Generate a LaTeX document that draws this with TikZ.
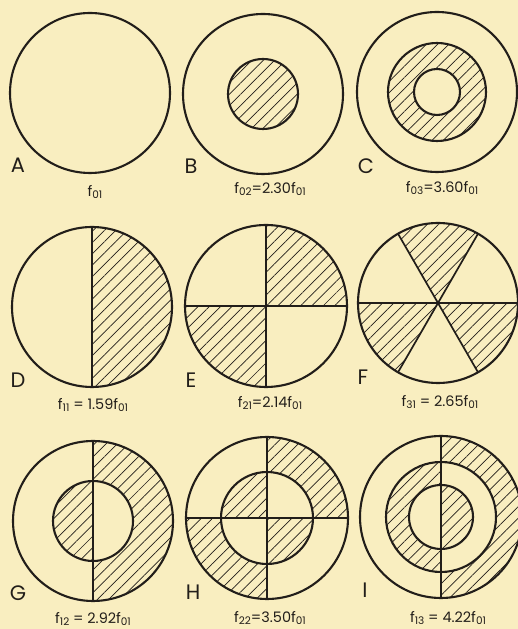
\documentclass[tikz,border=0pt]{standalone}
\usepackage{fontspec}
\setmainfont{Poppins}
\usetikzlibrary{patterns.meta}

\definecolor{paper}{RGB}{249,238,192}
\definecolor{ink}{RGB}{34,30,26}

% lowered index digits of a frequency
\newcommand{\idx}[1]{\raisebox{-0.3ex}{\fontsize{10.5}{10.5}\selectfont #1}}

\begin{document}
\begin{tikzpicture}[
  x=1bp, y=1bp,
  outline/.style={draw=ink, line width=2.1bp},
  divide/.style={draw=ink, line width=1.7bp},
  hatch/.style={pattern={Lines[angle=45, distance=8bp, line width=0.7bp]},
    pattern color=ink},
  tag/.style={font=\fontsize{21}{21}\selectfont, text=ink, inner sep=0pt},
  freq/.style={font=\fontsize{14.5}{14.5}\selectfont, text=ink, inner sep=0pt}
]
\path[fill=paper] (0,0) rectangle (518,629);
\useasboundingbox (0,0) rectangle (518,629);

% centres of the nine patterns
\coordinate (cA) at (90,536);
\coordinate (cB) at (263,535);
\coordinate (cC) at (437,537);
\coordinate (cD) at (92,322);
\coordinate (cE) at (266,323);
\coordinate (cF) at (438,326);
\coordinate (cG) at (93,108);
\coordinate (cH) at (267,111);
\coordinate (cI) at (441,112);

% row 1
\draw[outline] (cA) circle[radius=80];

\path[hatch] (cB) circle[radius=35];
\draw[outline] (cB) circle[radius=80];
\draw[outline] (cB) circle[radius=35];

\path[hatch, even odd rule] (cC) circle[radius=49] (cC) circle[radius=23];
\draw[outline] (cC) circle[radius=80];
\draw[outline] (cC) circle[radius=49];
\draw[outline] (cC) circle[radius=23];

% row 2
\path[hatch] (cD) -- ++(-90:80) arc[start angle=-90, end angle=90, radius=80] -- cycle;
\draw[outline] (cD) circle[radius=80];
\path (cD) ++(0,80) coordinate (dT) (cD) ++(0,-80) coordinate (dB);
\draw[divide] (dT) -- (dB);

\path[hatch] (cE) -- ++(0:81) arc[start angle=0, end angle=90, radius=81] -- cycle;
\path[hatch] (cE) -- ++(180:81) arc[start angle=180, end angle=270, radius=81] -- cycle;
\draw[outline] (cE) circle[radius=81];
\path (cE) ++(0,81) coordinate (eT) (cE) ++(0,-81) coordinate (eB)
  (cE) ++(-81,0) coordinate (eL) (cE) ++(81,0) coordinate (eR);
\draw[divide] (eT) -- (eB);
\draw[divide] (eL) -- (eR);

\foreach \a in {60,180,300}
  \path[hatch] (cF) -- ++(\a:80) arc[start angle=\a, end angle=\a+60, radius=80] -- cycle;
\draw[outline] (cF) circle[radius=80];
\path (cF) ++(0:80) coordinate (f0) (cF) ++(60:80) coordinate (f60)
  (cF) ++(120:80) coordinate (f120) (cF) ++(180:80) coordinate (f180)
  (cF) ++(240:80) coordinate (f240) (cF) ++(300:80) coordinate (f300);
\draw[divide] (f0) -- (f180);
\draw[divide] (f60) -- (f240);
\draw[divide] (f120) -- (f300);

% row 3
\path[hatch] (cG) ++(-90:80) arc[start angle=-90, end angle=90, radius=80]
  -- ++(0,-40) arc[start angle=90, end angle=-90, radius=40] -- cycle;
\path[hatch] (cG) -- ++(90:40) arc[start angle=90, end angle=270, radius=40] -- cycle;
\draw[outline] (cG) circle[radius=80];
\draw[outline] (cG) circle[radius=40];
\path (cG) ++(0,80) coordinate (gT) (cG) ++(0,-80) coordinate (gB);
\draw[divide] (gT) -- (gB);

\path[hatch] (cH) ++(0:81) arc[start angle=0, end angle=90, radius=81]
  -- ++(0,-35) arc[start angle=90, end angle=0, radius=46] -- cycle;
\path[hatch] (cH) ++(180:81) arc[start angle=180, end angle=270, radius=81]
  -- ++(0,35) arc[start angle=270, end angle=180, radius=46] -- cycle;
\path[hatch] (cH) -- ++(90:46) arc[start angle=90, end angle=180, radius=46] -- cycle;
\path[hatch] (cH) -- ++(270:46) arc[start angle=270, end angle=360, radius=46] -- cycle;
\draw[outline] (cH) circle[radius=81];
\draw[outline] (cH) circle[radius=46];
\path (cH) ++(0,81) coordinate (hT) (cH) ++(0,-81) coordinate (hB)
  (cH) ++(-81,0) coordinate (hL) (cH) ++(81,0) coordinate (hR);
\draw[divide] (hT) -- (hB);
\draw[divide] (hL) -- (hR);

\path[hatch] (cI) ++(-90:81) arc[start angle=-90, end angle=90, radius=81]
  -- ++(0,-26) arc[start angle=90, end angle=-90, radius=55] -- cycle;
\path[hatch] (cI) ++(90:55) arc[start angle=90, end angle=270, radius=55]
  -- ++(0,23) arc[start angle=270, end angle=90, radius=32] -- cycle;
\path[hatch] (cI) -- ++(-90:32) arc[start angle=-90, end angle=90, radius=32] -- cycle;
\draw[outline] (cI) circle[radius=81];
\draw[outline] (cI) circle[radius=55];
\draw[outline] (cI) circle[radius=32];
\path (cI) ++(0,81) coordinate (iT) (cI) ++(0,-81) coordinate (iB);
\draw[divide] (iT) -- (iB);

% letters
\node[tag] (tA) at (18,464) {A};
\node[tag] (tB) at (191,463) {B};
\node[tag] (tC) at (366,463) {C};
\node[tag] (tD) at (18,249) {D};
\node[tag] (tE) at (191,249) {E};
\node[tag] (tF) at (363,252) {F};
\node[tag] (tG) at (18,36) {G};
\node[tag] (tH) at (193,37) {H};
\node[tag] (tI) at (365,39) {I};

% frequencies
\node[freq] (fA) at (95,437) {f\idx{01}};
\node[freq] (fB) at (270,440) {f\idx{02}=2.30f\idx{01}};
\node[freq] (fC) at (442,441) {f\idx{03}=3.60f\idx{01}};
\node[freq] (fD) at (93,224) {f\idx{11} = 1.59f\idx{01}};
\node[freq] (fE) at (270,226) {f\idx{21}=2.14f\idx{01}};
\node[freq] (fF) at (440,227) {f\idx{31} = 2.65f\idx{01}};
\node[freq] (fG) at (93,10) {f\idx{12} = 2.92f\idx{01}};
\node[freq] (fH) at (270,11) {f\idx{22}=3.50f\idx{01}};
\node[freq] (fI) at (448,11) {f\idx{13} = 4.22f\idx{01}};
\end{tikzpicture}
\end{document}
